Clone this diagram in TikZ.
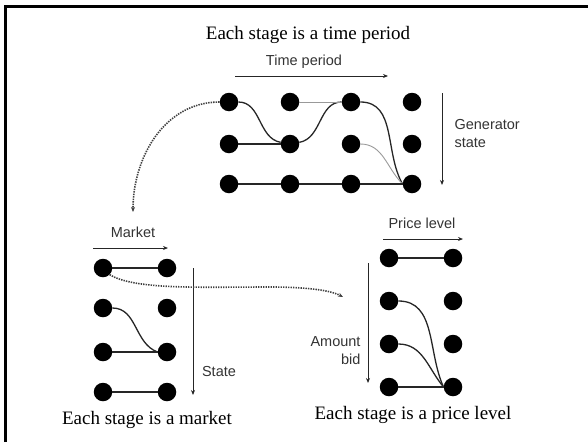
\documentclass[tikz,border=0pt]{standalone}
\usepackage{fontspec}
\setmainfont{Liberation Serif}
\setsansfont{Liberation Sans}
\usetikzlibrary{arrows.meta}

\begin{document}
\begin{tikzpicture}[x=1pt, y=-1pt, >={Stealth[length=5pt,width=4pt]},
    dot/.style={circle, fill=black, inner sep=0pt, minimum size=18.5pt},
    edge/.style={line width=1.3pt, black!85},
    faint/.style={line width=0.9pt, black!40},
    axis/.style={->, line width=1pt, black!85},
    hop/.style={->, dash pattern=on 1.4pt off 1.1pt, line width=1.6pt, black!75},
    lbl/.style={font=\sffamily\fontsize{14.5}{18}\selectfont, text=black!80},
    caption/.style={font=\fontsize{19}{22}\selectfont}]
    \useasboundingbox (0,0) rectangle (588,442);

    % 1. frame
    \draw[line width=2.5pt] (5.5,442) -- (5.5,6.5) -- (588,6.5);

    % 2. dots
    \foreach \c/\x in {1/229, 2/290, 3/351, 4/412}
        \foreach \r/\y in {1/102, 2/144, 3/184}
            \node[dot] (t\c\r) at (\x,\y) {};
    \foreach \c/\x in {1/103, 2/167}
        \foreach \r/\y in {1/268, 2/308, 3/352, 4/392}
            \node[dot] (l\c\r) at (\x,\y) {};
    \foreach \c/\x in {1/389, 2/453}
        \foreach \r/\y in {1/258, 2/301, 3/344, 4/387}
            \node[dot] (p\c\r) at (\x,\y) {};

    % 3. paths through the stages
    \draw[edge] (t11) to[out=0, in=170] (t22);
    \draw[edge] (t22) to[out=10, in=180] (t31);
    \draw[edge] (t31) to[out=0, in=120] (t43.west);
    \draw[faint] (t32) to[out=0, in=135] (t43.west);
    \draw[faint] (t21) -- (t31);
    \draw[edge] (t12) -- (t22);
    \draw[edge] (t13) -- (t23) -- (t33) -- (t43);

    \draw[edge] (l11) -- (l21);
    \draw[edge] (l12) to[out=0, in=160] (l23.west);
    \draw[edge] (l13) -- (l23);
    \draw[edge] (l14) -- (l24);

    \draw[edge] (p11) -- (p21);
    \draw[edge] (p12) to[out=0, in=115] (p24.west);
    \draw[edge] (p13) to[out=0, in=130] (p24.west);
    \draw[edge] (p14) -- (p24);

    % 4. axes
    \coordinate (tA) at (235,76);   \coordinate (tB) at (388,76);
    \coordinate (gA) at (442,93);   \coordinate (gB) at (442,185);
    \coordinate (mA) at (93,248);   \coordinate (mB) at (168,248);
    \coordinate (sA) at (193,268);  \coordinate (sB) at (193,395);
    \coordinate (pA) at (383,239);  \coordinate (pB) at (463,239);
    \coordinate (aA) at (368,263);  \coordinate (aB) at (368,383);
    \draw[axis] (tA) -- (tB);
    \draw[axis] (gA) -- (gB);
    \draw[axis] (mA) -- (mB);
    \draw[axis] (sA) -- (sB);
    \draw[axis] (pA) -- (pB);
    \draw[axis] (aA) -- (aB);

    % 5. dotted links
    \coordinate (mTop) at (133,212);
    \coordinate (pIn) at (343,297);
    \draw[hop] (t11.west) to[out=180, in=90] (mTop);
    \draw[hop] (l11.south east) .. controls (135,290) and (200,287) .. (270,287)
        .. controls (305,287) and (330,290) .. (pIn);

    % 6. labels
    \node[lbl] (tTime) at (304,62) {Time period};
    \node[lbl, align=left, anchor=west] (tGen) at (451,134) {Generator\\state};
    \node[lbl] (mMarket) at (133,232) {Market};
    \node[lbl] (mState) at (219,372) {State};
    \node[lbl] (pPrice) at (422,223) {Price level};
    \node[lbl, align=right, anchor=east] (pAmount) at (364,351) {Amount\\bid};

    \node[caption] (capTime) at (308,35) {Each stage is a time period};
    \node[caption] (capMarket) at (147,420) {Each stage is a market};
    \node[caption] (capPrice) at (413,415) {Each stage is a price level};
\end{tikzpicture}
\end{document}
